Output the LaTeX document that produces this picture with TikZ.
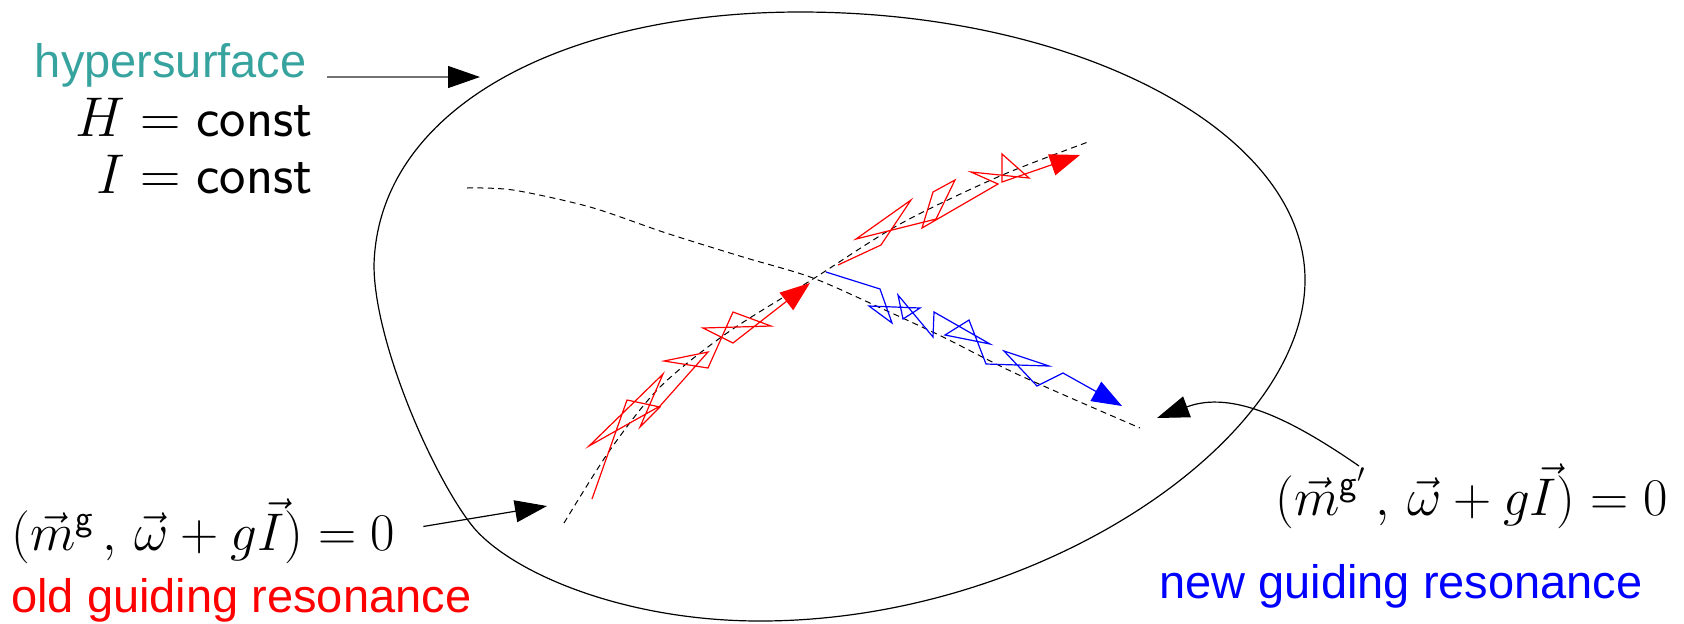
\RequirePackage{fix-cm}
\documentclass[tikz,border=0pt]{standalone}
\usepackage{amsmath}
\usepackage{xcolor}
\usepackage{fontspec}
\newfontfamily\labelfont{Liberation Sans}
\usepackage{tikz}
\usetikzlibrary{arrows.meta, positioning, calc}
\definecolor{hyperteal}{RGB}{55,163,158}

\begin{document}
\begin{tikzpicture}[x=0.5pt, y=-0.5pt,
        txt/.style={inner sep=0pt, font=\labelfont\fontsize{23.5}{28}\selectfont},
        eq/.style={inner sep=0pt, font=\fontsize{26.5}{32}\selectfont},
        bigeq/.style={inner sep=0pt, font=\fontsize{28}{34}\selectfont},
        ptr/.style={-{Triangle[length=16pt, width=11pt, color=black]}, line width=0.6pt},
        walk/.style={-{Triangle[length=15pt, width=11pt]}, line width=0.6pt},
        res/.style={dash pattern=on 3pt off 2.2pt, line width=0.5pt},
    ]
        \useasboundingbox (0,0) rectangle (1684,623);
        % energy surface
        \draw[line width=0.6pt] (800,12)
            .. controls (1079,12) and (1305,132) .. (1305,280)
            .. controls (1305,440) and (1040,621) .. (760,621)
            .. controls (620,621) and (505,570) .. (470,523)
            .. controls (430,470) and (374,340) .. (374,265)
            .. controls (378,110) and (560,12) .. cycle;
        % resonance lines
        \draw[res] plot[smooth] coordinates {(564,523) (610,450) (660,387) (727,333)
            (813,279) (900,224) (1000,176) (1088,142)};
        \draw[res] plot[smooth] coordinates {(467,188) (513,190) (590,207) (666,233)
            (743,257) (813,278) (885,310) (943,337) (1019,375) (1140,428)};
        % drifting orbits
        \draw[walk, red] (592,499) -- (627,400) -- (660,407) -- (640,427) -- (663,374)
            -- (589,446) -- (660,406) -- (708,352) -- (664,361) -- (708,368)
            -- (733,312) -- (771,326) -- (703,328) -- (733,343) -- (810,283);
        \draw[walk, red] (838,265) -- (881,245) -- (911,200) -- (856,239) -- (936,219)
            -- (955,180) -- (933,192) -- (922,228) -- (998,184) -- (971,172)
            -- (1029,178) -- (1002,154) -- (1002,182) -- (1080,155);
        \draw[walk, blue] (826,272) -- (880,289) -- (892,323) -- (869,306) -- (920,308)
            -- (903,319) -- (898,295) -- (933,337) -- (934,312) -- (990,344)
            -- (945,335) -- (969,320) -- (986,364) -- (1049,366) -- (1004,351)
            -- (1037,386) -- (1063,373) -- (1122,406);
        % labels
        \node[txt, text=hyperteal, anchor=base east] (hyp) at (307,77) {hypersurface};
        \node[bigeq, anchor=base east] (hconst) at (313,136) {$H=\mathsf{const}$};
        \node[bigeq, anchor=base east] (iconst) at (313,193) {$I=\mathsf{const}$};
        \node[eq, anchor=base west] (oldeq) at (11,550)
            {$(\vec{m}^{\mathsf{g}}\,,\,\vec{\omega}+g\vec{I})=0$};
        \node[txt, text=red, anchor=base west] (oldname) at (11,612) {old guiding resonance};
        \node[eq, anchor=base east] (neweq) at (1668,515)
            {$(\vec{m}^{\mathsf{g}'}\,,\,\vec{\omega}+g\vec{I})=0$};
        \node[txt, text=blue, anchor=base east] (newname) at (1643,598) {new guiding resonance};
        % pointers
        \coordinate (hyptip) at (480,77);
        \coordinate (oldtip) at (547,506);
        \coordinate (newfrom) at (1359,466);
        \coordinate (newtip) at (1157,418);
        \draw[ptr, draw=black!55, shorten <=10pt] (hyp.base east) -- (hyptip);
        \draw[ptr, shorten <=14pt] (oldeq.east) -- (oldtip);
        \draw[ptr] (newfrom) .. controls (1291,419) and (1232,390) .. (newtip);
    \end{tikzpicture}
\end{document}
